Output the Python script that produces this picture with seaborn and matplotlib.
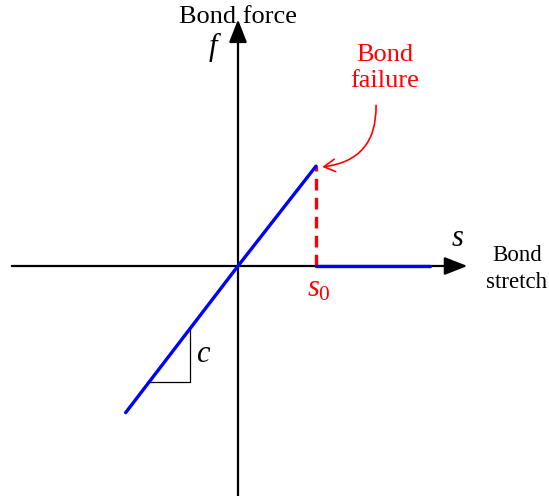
import numpy as np
import pandas as pd
import seaborn as sns
import matplotlib.pyplot as plt

# bond force vs bond stretch (brittle bond model)
s_loading = [-1.44, 0.0, 1.0]
f_loading = [-1.88, 0.0, 1.28]
s_failed = [1.0, 2.46]
f_failed = [0.0, 0.0]
s0 = 1.0
f0 = 1.28

sns.set_style('white')
plt.rcParams['font.family'] = ['Liberation Serif', 'DejaVu Serif']
plt.rcParams['text.color'] = 'black'
plt.rcParams['mathtext.fontset'] = 'custom'
plt.rcParams['mathtext.rm'] = 'Liberation Serif'
plt.rcParams['mathtext.it'] = 'Liberation Serif:italic'

fig = plt.figure(figsize=(5.49, 4.96), dpi=100)
ax = fig.add_axes([0, 0, 1, 1])
ax.set_xlim(-238 / 78, 311 / 78)
ax.set_ylim(-230 / 78, 266 / 78)
ax.axis('off')

# axes with arrows
ax.annotate('', xy=(2.94, 0), xytext=(-2.9, 0),
            arrowprops=dict(arrowstyle='-|>,head_length=1.4,head_width=0.55',
                            color='black', lw=1.6, shrinkA=0, shrinkB=0))
ax.annotate('', xy=(0, 3.16), xytext=(0, -2.95),
            arrowprops=dict(arrowstyle='-|>,head_length=1.4,head_width=0.55',
                            color='black', lw=1.6, shrinkA=0, shrinkB=0))

# loading branch and failed branch
load_df = pd.DataFrame({'s': s_loading, 'f': f_loading})
fail_df = pd.DataFrame({'s': s_failed, 'f': f_failed})
sns.lineplot(data=load_df, x='s', y='f', ax=ax, color='blue', lw=2.4,
             sort=False, zorder=4)
sns.lineplot(data=fail_df, x='s', y='f', ax=ax, color='blue', lw=2.4,
             sort=False, zorder=4)

# drop at failure
ax.vlines(s0, 0, f0, colors='red', linestyles=(0, (3.5, 2.2)), lw=2.4, zorder=3)

# slope triangle
c = f_loading[2] / s_loading[2]
tx = -0.615
ty = -1.49
ax.plot([tx, tx, ty / c], [tx * c, ty, ty], color='black', lw=0.9)
ax.text(tx + 0.08, (tx * c + ty) / 2, 'c', fontsize=22, style='italic',
        ha='left', va='center')

# labels
ax.text(0, 3.19, 'Bond force', fontsize=19, ha='center', va='center')
ax.text(-0.32, 2.8, 'f', fontsize=22, style='italic', ha='center', va='center')
ax.text(2.82, 0.35, 's', fontsize=22, style='italic', ha='center', va='center')
ax.text(3.575, -0.04, 'Bond\nstretch', fontsize=16.5, ha='center', va='center',
        linespacing=1.35)
ax.text(s0 + 0.04, -0.3, '$s_0$', fontsize=22, color='red', ha='center', va='center')
ax.text(1.885, 2.54, 'Bond\nfailure', fontsize=19, color='red', ha='center',
        va='center', linespacing=1.2)
ax.annotate('', xy=(s0 + 0.08, f0 - 0.01), xytext=(1.77, 2.06),
            arrowprops=dict(arrowstyle='->,head_length=0.8,head_width=0.45',
                            color='red', lw=1.2, shrinkA=0, shrinkB=0,
                            connectionstyle='arc3,rad=-0.45'))

fig.savefig('out.png', dpi=100)
